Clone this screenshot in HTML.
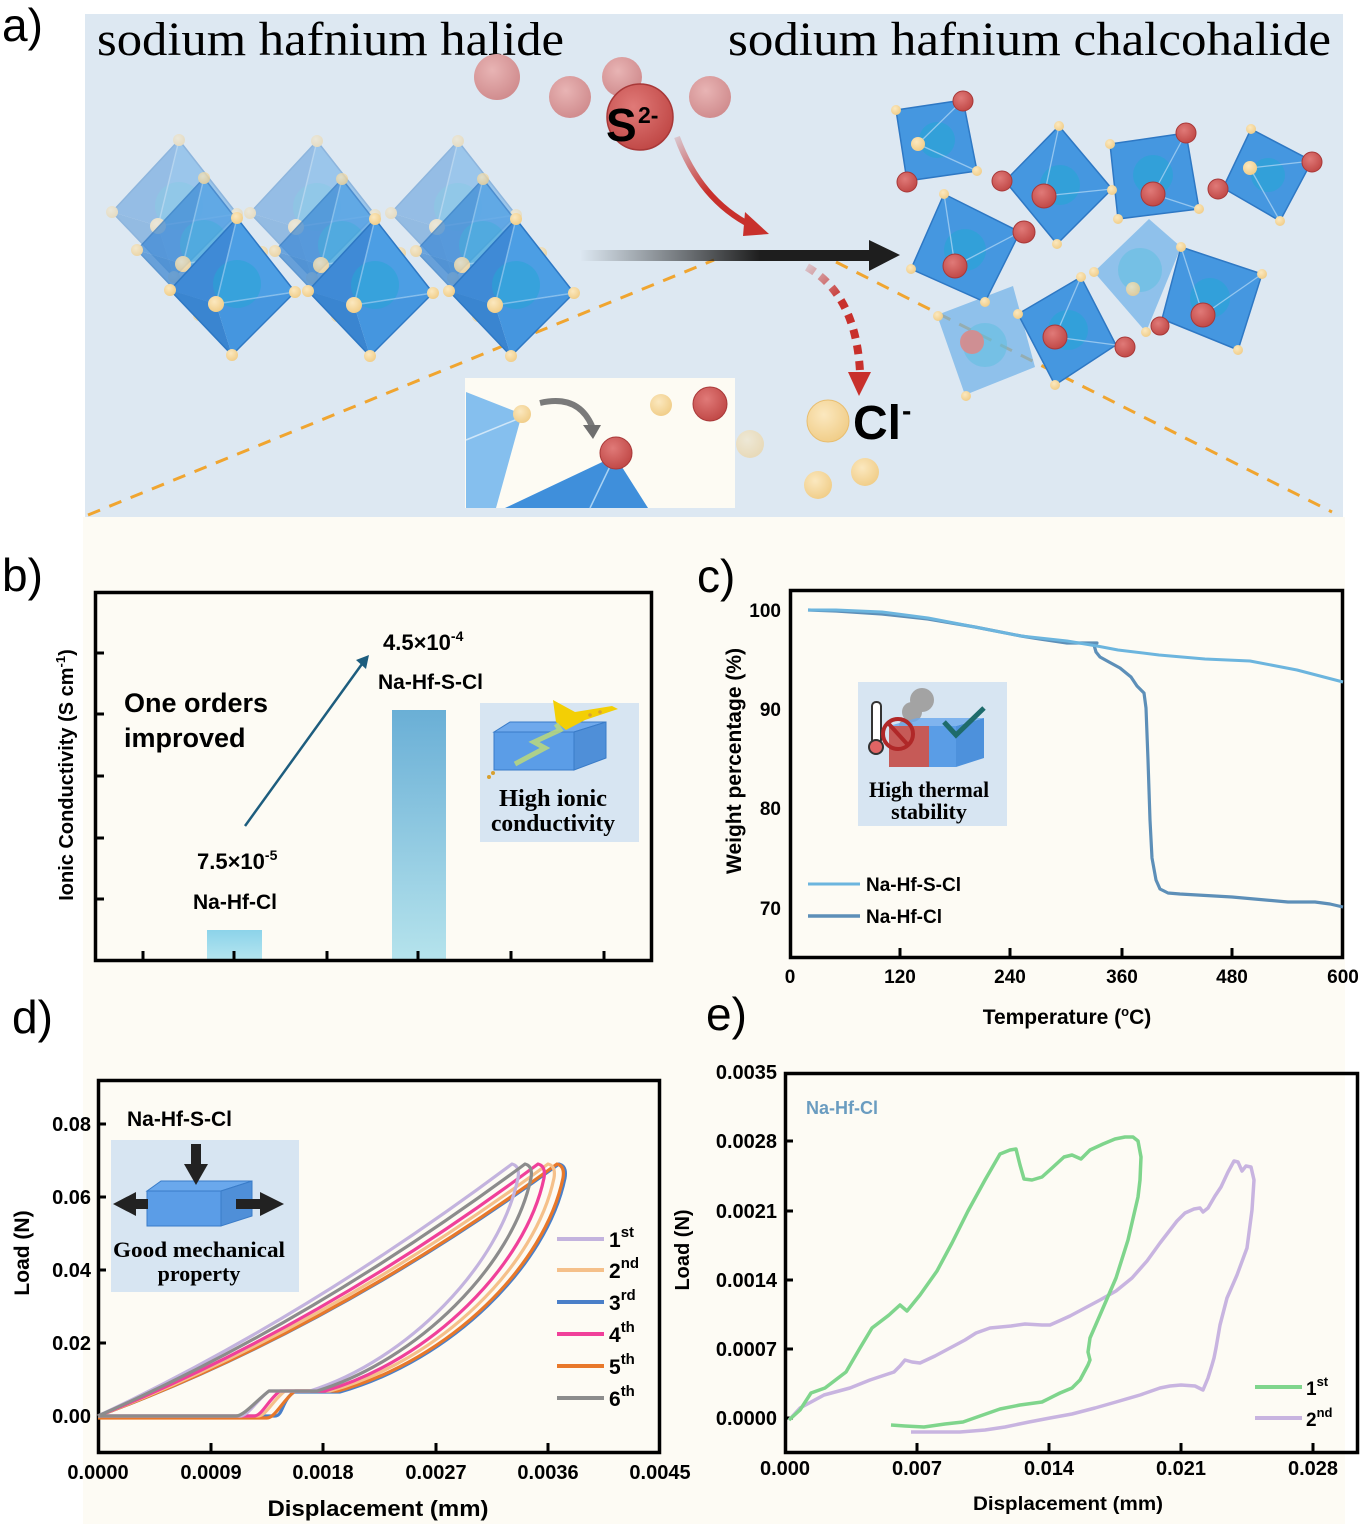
<!DOCTYPE html>
<html><head><meta charset="utf-8"><style>
html,body{margin:0;padding:0;background:#fff;overflow:hidden}
svg{display:block}
text{font-family:"Liberation Sans",Arial,sans-serif}
.b{font-weight:bold}
.sf{font-family:"Liberation Serif","Times New Roman",serif}
</style></head><body>
<svg width="1364" height="1524" viewBox="0 0 1364 1524" xmlns="http://www.w3.org/2000/svg">
<defs>
<linearGradient id="blk" gradientUnits="userSpaceOnUse" x1="580" y1="0" x2="760" y2="0">
<stop offset="0" stop-color="#222" stop-opacity="0"/><stop offset="1" stop-color="#1e1e1e" stop-opacity="1"/></linearGradient>
<linearGradient id="redg" gradientUnits="userSpaceOnUse" x1="675" y1="135" x2="760" y2="232">
<stop offset="0" stop-color="#c8302c" stop-opacity="0.15"/><stop offset="0.5" stop-color="#c8302c" stop-opacity="1"/></linearGradient>
<linearGradient id="redd" gradientUnits="userSpaceOnUse" x1="800" y1="265" x2="860" y2="330">
<stop offset="0" stop-color="#c8302c" stop-opacity="0.1"/><stop offset="0.6" stop-color="#c8302c" stop-opacity="1"/></linearGradient>
<linearGradient id="bar1" x1="0" y1="0" x2="0" y2="1">
<stop offset="0" stop-color="#6aafd6"/><stop offset="1" stop-color="#b5e3ec"/></linearGradient>
<linearGradient id="bar2" x1="0" y1="0" x2="0" y2="1">
<stop offset="0" stop-color="#8cd3ea"/><stop offset="1" stop-color="#b5e5ef"/></linearGradient>
<radialGradient id="pink" cx="0.4" cy="0.35" r="0.7"><stop offset="0" stop-color="#e8b4b4"/><stop offset="1" stop-color="#cf8a8c"/></radialGradient>
<radialGradient id="red" cx="0.4" cy="0.35" r="0.7"><stop offset="0" stop-color="#e07a78"/><stop offset="1" stop-color="#bf4644"/></radialGradient>
<radialGradient id="yel" cx="0.4" cy="0.35" r="0.7"><stop offset="0" stop-color="#fbe8bf"/><stop offset="1" stop-color="#f0cc86"/></radialGradient>
<g id="oct">
<polygon points="0,-69 -67,3 -21,17" fill="#3f8ad6"/>
<polygon points="0,-69 -21,17 58,5" fill="#4c9ee4"/>
<polygon points="-67,3 -21,17 -5,68" fill="#3a85d0"/>
<polygon points="-21,17 58,5 -5,68" fill="#4596df"/>
<polygon points="0,-69 58,5 -5,68 -67,3" fill="none" stroke="#2e78c4" stroke-width="1.5"/>
<circle cx="0" cy="-3" r="24" fill="#26a6d6" opacity="0.55"/>
<line x1="0" y1="-69" x2="-21" y2="17" stroke="#9ccbf0" stroke-width="1.5" opacity="0.7"/>
<line x1="-21" y1="17" x2="58" y2="5" stroke="#9ccbf0" stroke-width="1.5" opacity="0.7"/>
<circle cx="0" cy="-69" r="6" fill="url(#yel)"/>
<circle cx="-67" cy="3" r="6" fill="url(#yel)"/>
<circle cx="58" cy="5" r="6" fill="url(#yel)"/>
<circle cx="-5" cy="68" r="6" fill="url(#yel)"/>
<circle cx="-21" cy="17" r="8" fill="url(#yel)"/>
</g>
</defs>

<!-- backgrounds -->
<rect x="83" y="517" width="1262" height="1007" fill="#fdfbf4"/>
<rect x="85" y="14" width="1258" height="503" fill="#dde8f2"/>

<!-- ===== PANEL A ===== -->
<text x="2" y="41" font-size="46">a)</text>
<text x="97" y="55" class="sf" font-size="48" textLength="467" lengthAdjust="spacingAndGlyphs">sodium  hafnium  halide</text>
<text x="728" y="55" class="sf" font-size="48" textLength="603" lengthAdjust="spacingAndGlyphs">sodium  hafnium  chalcohalide</text>

<!-- dashed lines -->
<line x1="88" y1="515" x2="714" y2="260" stroke="#f0a530" stroke-width="3" stroke-dasharray="13,10"/>
<line x1="836" y1="262" x2="1332" y2="512" stroke="#f0a530" stroke-width="3" stroke-dasharray="13,10"/>

<!-- left octahedra: back, mid, front -->
<g opacity="0.45">
<use href="#oct" x="179" y="209"/><use href="#oct" x="317" y="210"/><use href="#oct" x="458" y="210"/>
</g>
<g opacity="0.72">
<use href="#oct" x="204" y="247"/><use href="#oct" x="342" y="248"/><use href="#oct" x="483" y="248"/>
</g>
<use href="#oct" x="237" y="287"/><use href="#oct" x="375" y="288"/><use href="#oct" x="516" y="288"/>

<!-- pink balls & S2- -->
<circle cx="497" cy="77" r="23" fill="url(#pink)"/>
<circle cx="570" cy="97" r="21" fill="url(#pink)"/>
<circle cx="622" cy="77" r="20" fill="url(#pink)"/>
<circle cx="710" cy="97" r="21" fill="url(#pink)"/>
<circle cx="640" cy="117" r="33" fill="url(#red)" stroke="#a83838" stroke-width="1.5"/>
<text x="606" y="141" class="b" font-size="46">S</text>
<text x="638" y="123" class="b" font-size="23">2-</text>

<!-- red arrow -->
<path d="M677,137 Q700,200 752,226" fill="none" stroke="url(#redg)" stroke-width="6"/>
<polygon points="745,212 769,234 743,236" fill="#c8302c"/>

<!-- black arrow -->
<rect x="580" y="250" width="292" height="11" fill="url(#blk)"/>
<polygon points="869,240 900,255 869,271" fill="#1e1e1e"/>

<!-- red dashed arrow -->
<path d="M807,267 Q856,295 860,372" fill="none" stroke="url(#redd)" stroke-width="8" stroke-dasharray="9,7"/>
<polygon points="848,372 871,372 859,396" fill="#c8302c"/>

<!-- Cl- -->
<circle cx="828" cy="421" r="21" fill="url(#yel)" stroke="#e8be70" stroke-width="1"/>
<text x="853" y="439" class="b" font-size="48">Cl</text>
<text x="902" y="420" class="b" font-size="28">-</text>
<circle cx="750" cy="444" r="14" fill="url(#yel)" opacity="0.55"/>
<circle cx="818" cy="485" r="14" fill="url(#yel)"/>
<circle cx="865" cy="472" r="14" fill="url(#yel)"/>

<!-- inset -->
<rect x="465" y="378" width="270" height="130" fill="#fdfbf3"/>
<polygon points="466,392 522,414 496,508 466,508" fill="#85bfee"/>
<line x1="466" y1="440" x2="520" y2="418" stroke="#cfe6f8" stroke-width="1.5"/>
<polygon points="505,508 615,456 648,508" fill="#3f8fdb"/>
<line x1="615" y1="456" x2="590" y2="508" stroke="#a8d2f3" stroke-width="1.5"/>
<circle cx="522" cy="414" r="9" fill="url(#yel)"/>
<path d="M540,403 Q578,394 592,426" fill="none" stroke="#7a7a7a" stroke-width="6"/>
<polygon points="583,425 601,425 593,439" fill="#6e6e6e"/>
<circle cx="616" cy="453" r="16" fill="url(#red)" stroke="#a83838" stroke-width="1"/>
<circle cx="661" cy="405" r="11" fill="url(#yel)"/>
<circle cx="710" cy="404" r="17" fill="url(#red)" stroke="#a83838" stroke-width="1"/>

<!-- right octahedra -->
<g>
<polygon points="1149,219 1181,247 1146,332 1094,272" fill="#6db0e8" opacity="0.7"/>
<circle cx="1140" cy="270" r="22" fill="#5cc0e0" opacity="0.5"/>
<circle cx="1133" cy="289" r="7" fill="url(#yel)" opacity="0.8"/>
<polygon points="937,315 1013,286 1035,367 965,395" fill="#6db0e8" opacity="0.7"/>
<circle cx="985" cy="345" r="22" fill="#5cc0e0" opacity="0.5"/>
<circle cx="972" cy="342" r="12" fill="#d98a8a" opacity="0.9"/>
<circle cx="938" cy="316" r="5" fill="url(#yel)"/>
<circle cx="966" cy="396" r="5" fill="url(#yel)"/>
</g>
<g stroke="#2e78c4" stroke-width="1.5">
<polygon points="896,110 963,100 977,171 907,181" fill="#4597e0"/>
<polygon points="1059,126 1112,189 1057,244 1005,181" fill="#4597e0"/>
<polygon points="1110,144 1186,133 1199,209 1118,219" fill="#4597e0"/>
<polygon points="1251,129 1312,161 1280,221 1223,188" fill="#4597e0"/>
<polygon points="944,194 1020,232 985,302 911,269" fill="#4597e0"/>
<polygon points="1181,247 1262,274 1238,350 1162,319" fill="#4597e0"/>
<polygon points="1018,314 1081,277 1116,345 1055,385" fill="#4597e0"/>
</g>
<g fill="#26a6d6" opacity="0.6">
<circle cx="937" cy="140" r="18"/><circle cx="1060" cy="185" r="20"/><circle cx="1153" cy="175" r="20"/>
<circle cx="1268" cy="175" r="17"/><circle cx="965" cy="250" r="21"/><circle cx="1210" cy="298" r="20"/><circle cx="1068" cy="330" r="20"/>
</g>
<g stroke="#a8d2f3" stroke-width="1.3" opacity="0.8">
<line x1="918" y1="144" x2="963" y2="100"/><line x1="918" y1="144" x2="977" y2="171"/>
<line x1="1044" y1="196" x2="1059" y2="126"/><line x1="1044" y1="196" x2="1112" y2="189"/>
<line x1="1153" y1="194" x2="1186" y2="133"/><line x1="1153" y1="194" x2="1199" y2="209"/>
<line x1="1250" y1="168" x2="1312" y2="161"/><line x1="1250" y1="168" x2="1280" y2="221"/>
<line x1="955" y1="266" x2="944" y2="194"/><line x1="955" y1="266" x2="1020" y2="232"/>
<line x1="1203" y1="315" x2="1181" y2="247"/><line x1="1203" y1="315" x2="1262" y2="274"/>
<line x1="1055" y1="337" x2="1081" y2="277"/><line x1="1055" y1="337" x2="1116" y2="345"/>
</g>
<g fill="url(#red)" stroke="#a83838" stroke-width="1">
<circle cx="963" cy="101" r="10"/><circle cx="907" cy="182" r="10"/>
<circle cx="1002" cy="181" r="10"/><circle cx="1044" cy="196" r="12"/>
<circle cx="1186" cy="133" r="10"/><circle cx="1153" cy="194" r="12"/>
<circle cx="1312" cy="162" r="10"/><circle cx="1218" cy="189" r="10"/>
<circle cx="1024" cy="232" r="11"/><circle cx="955" cy="266" r="12"/>
<circle cx="1203" cy="315" r="12"/><circle cx="1160" cy="326" r="9"/>
<circle cx="1055" cy="337" r="12"/><circle cx="1125" cy="347" r="10"/>
</g>
<g fill="url(#yel)">
<circle cx="896" cy="110" r="5"/><circle cx="977" cy="171" r="5"/><circle cx="918" cy="144" r="7"/>
<circle cx="1059" cy="126" r="5"/><circle cx="1057" cy="244" r="5"/><circle cx="1112" cy="190" r="5"/>
<circle cx="1110" cy="144" r="5"/><circle cx="1199" cy="209" r="5"/><circle cx="1118" cy="219" r="5"/>
<circle cx="1251" cy="129" r="5"/><circle cx="1280" cy="221" r="5"/><circle cx="1250" cy="168" r="7"/>
<circle cx="944" cy="194" r="5"/><circle cx="911" cy="269" r="5"/><circle cx="985" cy="302" r="5"/>
<circle cx="1181" cy="247" r="5"/><circle cx="1262" cy="274" r="5"/><circle cx="1238" cy="350" r="5"/>
<circle cx="1018" cy="314" r="5"/><circle cx="1081" cy="277" r="5"/><circle cx="1055" cy="385" r="5"/>
<circle cx="1094" cy="272" r="5"/><circle cx="1146" cy="332" r="5"/>
</g>

<!-- ===== PANEL B ===== -->
<text x="2" y="591" font-size="46">b)</text>
<rect x="207" y="930" width="55" height="30" fill="url(#bar2)"/>
<rect x="392" y="710" width="54" height="250" fill="url(#bar1)"/>
<rect x="95.5" y="592.5" width="556" height="368" fill="none" stroke="#000" stroke-width="3.5"/>
<g stroke="#000" stroke-width="3">
<line x1="97" y1="653" x2="104" y2="653"/><line x1="97" y1="714" x2="104" y2="714"/><line x1="97" y1="776" x2="104" y2="776"/>
<line x1="97" y1="838" x2="104" y2="838"/><line x1="97" y1="899" x2="104" y2="899"/>
<line x1="143" y1="959" x2="143" y2="951"/><line x1="234" y1="959" x2="234" y2="951"/><line x1="327" y1="959" x2="327" y2="951"/>
<line x1="418" y1="959" x2="418" y2="951"/><line x1="511" y1="959" x2="511" y2="951"/><line x1="604" y1="959" x2="604" y2="951"/>
</g>
<text transform="translate(73,775) rotate(-90)" text-anchor="middle" class="b" font-size="20">Ionic Conductivity (S cm<tspan font-size="13" dy="-8">-1</tspan><tspan dy="8">)</tspan></text>
<text x="383" y="650" class="b" font-size="22">4.5×10<tspan font-size="14" dy="-9">-4</tspan></text>
<text x="378" y="689" class="b" font-size="21">Na-Hf-S-Cl</text>
<text x="124" y="712" class="b" font-size="27">One orders</text>
<text x="124" y="747" class="b" font-size="27">improved</text>
<line x1="245" y1="826" x2="362" y2="664" stroke="#1d5d7e" stroke-width="2.5"/>
<polygon points="356,660 369,655 366,669" fill="#1d5d7e"/>
<text x="197" y="869" class="b" font-size="22">7.5×10<tspan font-size="14" dy="-9">-5</tspan></text>
<text x="193" y="909" class="b" font-size="21">Na-Hf-Cl</text>
<!-- inset b -->
<rect x="480" y="703" width="159" height="139" fill="#d7e5f2"/>
<polygon points="494,732 510,722 606,722 574,732" fill="#6fa9ec" stroke="#3a7cc8" stroke-width="1"/>
<polygon points="574,732 606,722 606,758 574,770" fill="#4f8fd8" stroke="#3a7cc8" stroke-width="1"/>
<rect x="494" y="732" width="80" height="38" fill="#5b9de7" stroke="#3a7cc8" stroke-width="1"/>
<polygon points="553,700 575,712 612,706 618,709 585,720 566,730 556,722" fill="#f3cf05"/>
<polyline points="515,764 545,748 534,742 560,730 556,724" fill="none" stroke="#bcd97a" stroke-width="5" opacity="0.85"/>
<circle cx="489" cy="777" r="2" fill="#d8a030"/><circle cx="493" cy="773" r="2" fill="#d8a030"/>
<circle cx="590" cy="715" r="1.8" fill="#d8a030"/><circle cx="600" cy="712" r="1.8" fill="#d8a030"/>
<text x="553" y="806" text-anchor="middle" class="sf b" font-size="24" textLength="108" lengthAdjust="spacingAndGlyphs">High ionic</text>
<text x="553" y="831" text-anchor="middle" class="sf b" font-size="24" textLength="124" lengthAdjust="spacingAndGlyphs">conductivity</text>

<!-- ===== PANEL C ===== -->
<text x="697" y="592" font-size="46">c)</text>
<rect x="790.5" y="590.5" width="552" height="367" fill="none" stroke="#000" stroke-width="3.5"/>
<g stroke="#000" stroke-width="3">
<line x1="900" y1="956" x2="900" y2="948"/><line x1="1010" y1="956" x2="1010" y2="948"/>
<line x1="1122" y1="956" x2="1122" y2="948"/><line x1="1232" y1="956" x2="1232" y2="948"/>
</g>
<g class="b" font-size="19" text-anchor="end">
<text x="781" y="617">100</text><text x="781" y="716">90</text><text x="781" y="815">80</text><text x="781" y="915">70</text>
</g>
<g class="b" font-size="19" text-anchor="middle">
<text x="790" y="983">0</text><text x="900" y="983">120</text><text x="1010" y="983">240</text>
<text x="1122" y="983">360</text><text x="1232" y="983">480</text><text x="1343" y="983">600</text>
</g>
<text x="1067" y="1024" text-anchor="middle" class="b" font-size="21">Temperature (<tspan font-size="13" dy="-8">o</tspan><tspan dy="8">C)</tspan></text>
<text transform="translate(741,761) rotate(-90)" text-anchor="middle" class="b" font-size="21">Weight percentage (%)</text>
<!-- curves c: x=790+0.9217T ; y=610+(100-W)*9.93 -->
<polyline fill="none" stroke="#5d8fb8" stroke-width="3.2" stroke-linejoin="round" points="808,610 836,611 882,614 928,619 975,627 1021,636 1040,639 1067,643 1097,643 1094,645 1096,652 1100,657 1109,662 1120,668 1131,677 1137,686 1144,693 1146,708 1148,760 1150,820 1152,858 1156,880 1160,889 1168,893 1180,894 1232,897 1288,902 1315,902 1330,904 1343,907"/>
<polyline fill="none" stroke="#6cb5de" stroke-width="3" stroke-linejoin="round" points="808,610 836,610 882,612 928,618 975,627 1021,636 1067,641 1097,646 1118,650 1159,655 1205,659 1250,661 1297,670 1343,682"/>
<line x1="808" y1="884" x2="860" y2="884" stroke="#6cb5de" stroke-width="3"/>
<line x1="808" y1="916" x2="860" y2="916" stroke="#5d8fb8" stroke-width="3.5"/>
<text x="866" y="891" class="b" font-size="19">Na-Hf-S-Cl</text>
<text x="866" y="923" class="b" font-size="19">Na-Hf-Cl</text>
<!-- inset c -->
<rect x="858" y="682" width="149" height="144" fill="#d7e5f2"/>
<circle cx="922" cy="700" r="12" fill="#a3a3a3"/><circle cx="912" cy="712" r="10" fill="#a3a3a3"/><circle cx="906" cy="726" r="7" fill="#a3a3a3"/>
<rect x="889" y="726" width="40" height="41" fill="#c65a57"/>
<rect x="929" y="726" width="27" height="41" fill="#5a9de6"/>
<polygon points="956,726 984,718 984,758 956,767" fill="#4d91dc"/>
<polygon points="889,726 917,718 984,718 956,726" fill="#6aa8ec" opacity="0.8"/>
<rect x="872" y="702" width="9" height="42" rx="4" fill="#fff" stroke="#333" stroke-width="2"/>
<circle cx="876" cy="747" r="7" fill="#e06464" stroke="#333" stroke-width="2"/>
<circle cx="898" cy="734" r="15" fill="none" stroke="#b02828" stroke-width="4"/>
<line x1="888" y1="723" x2="908" y2="745" stroke="#b02828" stroke-width="4"/>
<polyline points="944,722 956,735 984,708" fill="none" stroke="#1e6b6b" stroke-width="5"/>
<text x="929" y="797" text-anchor="middle" class="sf b" font-size="22" textLength="120" lengthAdjust="spacingAndGlyphs">High thermal</text>
<text x="929" y="819" text-anchor="middle" class="sf b" font-size="22">stability</text>

<!-- ===== PANEL D ===== -->
<text x="12" y="1033" font-size="46">d)</text>
<rect x="98.5" y="1080.5" width="561" height="372" fill="none" stroke="#000" stroke-width="3.5"/>
<g stroke="#000" stroke-width="3">
<line x1="100" y1="1124" x2="106" y2="1124"/><line x1="100" y1="1197" x2="106" y2="1197"/><line x1="100" y1="1270" x2="106" y2="1270"/>
<line x1="100" y1="1343" x2="106" y2="1343"/><line x1="100" y1="1416" x2="106" y2="1416"/>
<line x1="211" y1="1451" x2="211" y2="1443"/><line x1="323" y1="1451" x2="323" y2="1443"/>
<line x1="436" y1="1451" x2="436" y2="1443"/><line x1="548" y1="1451" x2="548" y2="1443"/>
</g>
<g class="b" font-size="20" text-anchor="end">
<text x="91" y="1131">0.08</text><text x="91" y="1204">0.06</text><text x="91" y="1277">0.04</text>
<text x="91" y="1350">0.02</text><text x="91" y="1423">0.00</text>
</g>
<g class="b" font-size="20" text-anchor="middle">
<text x="98" y="1479">0.0000</text><text x="211" y="1479">0.0009</text><text x="323" y="1479">0.0018</text>
<text x="436" y="1479">0.0027</text><text x="548" y="1479">0.0036</text><text x="660" y="1479">0.0045</text>
</g>
<text x="378" y="1516" text-anchor="middle" class="b" font-size="22" textLength="221" lengthAdjust="spacingAndGlyphs">Displacement (mm)</text>
<text transform="translate(29,1253) rotate(-90)" text-anchor="middle" class="b" font-size="21">Load (N)</text>
<!-- curves d -->
<g fill="none" stroke-width="3.2" stroke-linejoin="round">
<path stroke="#4a7fc8" d="M98,1416 Q331,1330 559,1164 Q567,1166 565,1178 C547,1265 452,1360 340,1392 L294,1392 C282,1400 283,1416 275,1416 L98,1416"/>
<path stroke="#e8782a" d="M98,1416 Q330,1330 557,1164 Q565,1166 563,1178 C545,1265 450,1360 338,1391 L295,1391 C283,1400 275,1418 267,1418 L98,1418"/>
<path stroke="#f5c08a" d="M98,1416 Q325,1328 548,1164 Q556,1166 554,1178 C536,1265 441,1360 330,1391 L285,1391 C273,1400 266,1416 258,1416 L98,1416"/>
<path stroke="#f0409a" d="M98,1416 Q320,1326 538,1164 Q546,1166 544,1178 C526,1265 431,1360 325,1391 L280,1391 C268,1400 262,1416 254,1416 L98,1416"/>
<path stroke="#c3b3de" d="M98,1416 Q306,1318 512,1164 Q520,1166 518,1178 C500,1265 408,1360 310,1391 L269,1391 C257,1400 248,1416 240,1416 L98,1416"/>
<path stroke="#8c8c8c" d="M98,1416 Q312,1322 525,1164 Q533,1166 531,1178 C513,1265 418,1360 317,1391 L269,1391 C257,1400 244,1416 236,1416 L98,1416"/>
</g>
<g stroke-width="4">
<line x1="557" y1="1239" x2="604" y2="1239" stroke="#c3b3de"/>
<line x1="557" y1="1270" x2="604" y2="1270" stroke="#f5c08a"/>
<line x1="557" y1="1302" x2="604" y2="1302" stroke="#4a7fc8"/>
<line x1="557" y1="1334" x2="604" y2="1334" stroke="#f0409a"/>
<line x1="557" y1="1366" x2="604" y2="1366" stroke="#e8782a"/>
<line x1="557" y1="1398" x2="604" y2="1398" stroke="#8c8c8c"/>
</g>
<g class="b" font-size="21">
<text x="609" y="1247">1<tspan font-size="15" dy="-10">st</tspan></text>
<text x="609" y="1278">2<tspan font-size="15" dy="-10">nd</tspan></text>
<text x="609" y="1310">3<tspan font-size="15" dy="-10">rd</tspan></text>
<text x="609" y="1342">4<tspan font-size="15" dy="-10">th</tspan></text>
<text x="609" y="1374">5<tspan font-size="15" dy="-10">th</tspan></text>
<text x="609" y="1406">6<tspan font-size="15" dy="-10">th</tspan></text>
</g>
<text x="127" y="1126" class="b" font-size="21">Na-Hf-S-Cl</text>
<!-- inset d -->
<rect x="111" y="1140" width="188" height="152" fill="#d7e5f2"/>
<polygon points="147,1191 161,1181 252,1181 221,1191" fill="#6aa8ec" stroke="#3a7cc8" stroke-width="1"/>
<polygon points="221,1191 252,1181 252,1216 221,1226" fill="#4f8fd8" stroke="#3a7cc8" stroke-width="1"/>
<rect x="147" y="1191" width="74" height="35" fill="#5b9de7" stroke="#3a7cc8" stroke-width="1"/>
<rect x="191" y="1144" width="10" height="22" fill="#222"/>
<polygon points="184,1164 208,1164 196,1185" fill="#222"/>
<rect x="134" y="1199" width="14" height="10" fill="#222"/>
<polygon points="113,1204 136,1192 136,1216" fill="#222"/>
<rect x="236" y="1199" width="26" height="10" fill="#222"/>
<polygon points="284,1204 260,1192 260,1216" fill="#222"/>
<text x="199" y="1257" text-anchor="middle" class="sf b" font-size="22" textLength="172" lengthAdjust="spacingAndGlyphs">Good mechanical</text>
<text x="199" y="1281" text-anchor="middle" class="sf b" font-size="22">property</text>

<!-- ===== PANEL E ===== -->
<text x="706" y="1030" font-size="46">e)</text>
<rect x="785.5" y="1073.5" width="572" height="379" fill="none" stroke="#000" stroke-width="3.5"/>
<g stroke="#000" stroke-width="3">
<line x1="787" y1="1141" x2="793" y2="1141"/><line x1="787" y1="1211" x2="793" y2="1211"/><line x1="787" y1="1280" x2="793" y2="1280"/>
<line x1="787" y1="1349" x2="793" y2="1349"/><line x1="787" y1="1418" x2="793" y2="1418"/>
<line x1="917" y1="1451" x2="917" y2="1443"/><line x1="1049" y1="1451" x2="1049" y2="1443"/>
<line x1="1181" y1="1451" x2="1181" y2="1443"/><line x1="1313" y1="1451" x2="1313" y2="1443"/>
</g>
<g class="b" font-size="20" text-anchor="end">
<text x="777" y="1079">0.0035</text><text x="777" y="1148">0.0028</text><text x="777" y="1218">0.0021</text>
<text x="777" y="1287">0.0014</text><text x="777" y="1356">0.0007</text><text x="777" y="1425">0.0000</text>
</g>
<g class="b" font-size="20" text-anchor="middle">
<text x="785" y="1475">0.000</text><text x="917" y="1475">0.007</text><text x="1049" y="1475">0.014</text>
<text x="1181" y="1475">0.021</text><text x="1313" y="1475">0.028</text>
</g>
<text x="1068" y="1510" text-anchor="middle" class="b" font-size="19" textLength="190" lengthAdjust="spacingAndGlyphs">Displacement (mm)</text>
<text transform="translate(689,1250) rotate(-90)" text-anchor="middle" class="b" font-size="20">Load (N)</text>
<text x="806" y="1114" class="b" font-size="18" fill="#6a9cc0">Na-Hf-Cl</text>
<polyline fill="none" stroke="#c8b4e0" stroke-width="3.5" stroke-linejoin="round" points="789,1420 800,1408 824,1395 850,1388 870,1380 894,1372 900,1366 905,1360 912,1362 920,1363 935,1356 950,1348 965,1340 976,1333 990,1328 1011,1326 1025,1324 1042,1325 1050,1325 1059,1321 1070,1316 1085,1308 1100,1300 1116,1291 1132,1278 1147,1261 1160,1243 1177,1221 1185,1213 1194,1209 1200,1208 1203,1212 1208,1208 1215,1196 1221,1187 1228,1172 1234,1161 1238,1162 1242,1171 1246,1166 1251,1167 1254,1180 1252,1210 1247,1248 1237,1275 1227,1298 1220,1325 1216,1348 1214,1358 1212,1365 1208,1378 1203,1390 1195,1386 1181,1385 1170,1386 1160,1388 1140,1395 1116,1402 1095,1408 1072,1414 1050,1418 1029,1422 1005,1427 985,1430 960,1432 942,1432 925,1432 911,1432"/>
<polyline fill="none" stroke="#7fd58c" stroke-width="3.5" stroke-linejoin="round" points="789,1420 800,1410 811,1393 825,1388 846,1372 860,1348 872,1328 889,1315 900,1305 907,1311 920,1295 937,1271 952,1243 968,1211 985,1180 1000,1154 1010,1150 1016,1149 1020,1165 1024,1179 1032,1180 1042,1177 1052,1168 1064,1157 1072,1155 1081,1159 1090,1150 1103,1144 1115,1139 1125,1137 1133,1137 1138,1141 1141,1157 1140,1180 1138,1197 1128,1240 1116,1278 1100,1315 1090,1338 1088,1352 1090,1360 1088,1365 1080,1380 1072,1388 1060,1393 1042,1402 1020,1405 1000,1409 980,1416 963,1422 945,1424 924,1427 905,1426 891,1425"/>
<line x1="1255" y1="1387" x2="1302" y2="1387" stroke="#7fd58c" stroke-width="4"/>
<line x1="1255" y1="1418" x2="1302" y2="1418" stroke="#c8b4e0" stroke-width="4"/>
<g class="b" font-size="19">
<text x="1306" y="1395">1<tspan font-size="13" dy="-9">st</tspan></text>
<text x="1306" y="1426">2<tspan font-size="13" dy="-9">nd</tspan></text>
</g>
</svg>
</body></html>
